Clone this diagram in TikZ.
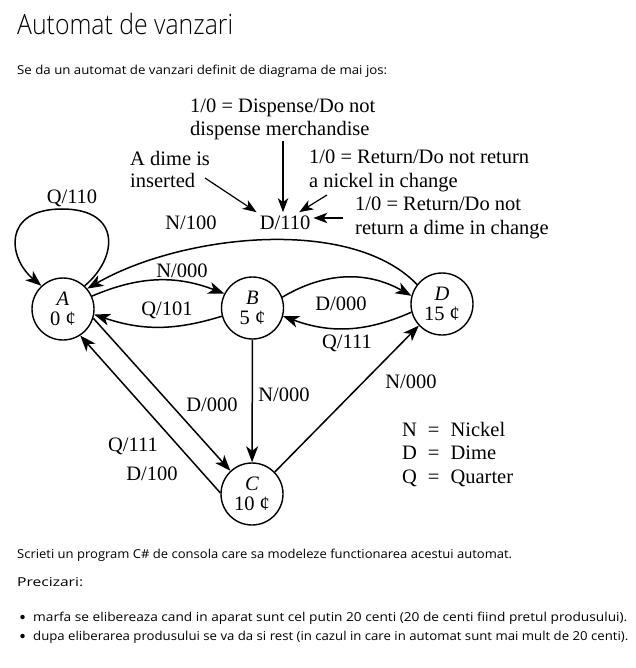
\documentclass[tikz,border=0pt]{standalone}
\usepackage{fontspec}
\usepackage{graphicx}
\setmainfont{Liberation Serif}
\IfFontExistsTF{Open Sans Light}{\newfontfamily\titlefont{Open Sans Light}}{\newfontfamily\titlefont{Open Sans}}
\newfontfamily\uifont{Open Sans}
\usetikzlibrary{arrows.meta,calc}
\begin{document}
\begin{tikzpicture}[x=1pt,y=-1pt,
  font=\fontsize{20.5}{23.5}\selectfont,
  state/.style={circle,draw,line width=1.4pt,minimum size=62pt,inner sep=0pt,align=center,
    font=\fontsize{20.5}{20}\selectfont},
  arr/.style={line width=1.5pt,-{Stealth[length=16pt,width=12pt,inset=4.5pt]}},
  ptr/.style={line width=1.2pt,-{Stealth[length=14pt,width=10.5pt,inset=4pt]}},
  lbl/.style={inner sep=0pt,anchor=base},
  lblw/.style={inner sep=0pt,anchor=base west},
  ui/.style={inner sep=0pt,anchor=base west,font=\uifont\fontsize{12.3}{14}\selectfont},
  bullet/.style={circle,fill,inner sep=0pt,minimum size=4.5pt}]
\fill[white] (0,0) rectangle (635,668);
\useasboundingbox (0,0) rectangle (635,668);

% page text
\node[inner sep=0pt,anchor=base west,font=\titlefont\fontsize{28}{32}\selectfont] (title) at (17,35)
  {\resizebox{216pt}{\height}{Automat de vanzari}};
\node[ui] (intro) at (17,75) {\resizebox{370pt}{\height}{Se da un automat de vanzari definit de diagrama de mai jos:}};
\node[ui] (task) at (17,558) {\resizebox{495pt}{\height}{Scrieti un program C\# de consola care sa modeleze functionarea acestui automat.}};
\node[ui] (prec) at (17,586) {\resizebox{66pt}{\height}{Precizari:}};
\node[bullet] (b1) at (22.5,617) {};
\node[ui] (item1) at (33,621) {\resizebox{594pt}{\height}{marfa se elibereaza cand in aparat sunt cel putin 20 centi (20 de centi fiind pretul produsului).}};
\node[bullet] (b2) at (22.5,636) {};
\node[ui] (item2) at (33,640) {\resizebox{595pt}{\height}{dupa eliberarea produsului se va da si rest (in cazul in care in automat sunt mai mult de 20 centi).}};

% states
\node[state] (A) at (63,309) {\textit{A}\\0 ¢};
\node[state] (B) at (252.5,308) {\textit{B}\\5 ¢};
\node[state] (C) at (252,494) {\textit{C}\\10 ¢};
\node[state] (D) at (442,304) {\textit{D}\\15 ¢};

% notes
\node[lblw] (n1a) at (190,113) {1/0 = Dispense/Do not};
\node[lblw] (n1b) at (190,136) {dispense merchandise};
\node[lblw] (n2a) at (130,166) {A dime is};
\node[lblw] (n2b) at (130,188) {inserted};
\node[lblw] (n3a) at (309,164) {1/0 = Return/Do not return};
\node[lblw] (n3b) at (309,188) {a nickel in change};
\node[lblw] (n4a) at (355,211) {1/0 = Return/Do not};
\node[lblw] (n4b) at (355,234) {return a dime in change};

\node[lbl,inner sep=3pt] (d110) at (285,229) {D/110};
\coordinate (p1) at (205,178);
\coordinate (p2) at (283,141);
\coordinate (p3) at (327,195);
\coordinate (p4) at (343,218);
\draw[ptr] (p1) -- (d110.north west);
\draw[ptr] (p2) -- (p2 |- d110.north);
\draw[ptr] (p3) -- ($(d110.north)!0.5!(d110.north east)$);
\draw[ptr] (p4) -- (p4 -| d110.east);

% transitions
\coordinate (lt) at (62,209);
\draw[arr] (A.47) .. controls (118,258) and (122,209) .. (lt)
  .. controls (2,209) and (8,258) .. (A.133);
\node[lbl] (q110) at (72,204) {Q/110};

\draw[arr] (D.142) .. controls (350,215) and (180,235) .. (A.40);
\node[lbl] (n100) at (191,229) {N/100};

\draw[arr] (A.24) to[bend left=22] (B.153);
\node[lbl] (ab) at (182,277) {N/000};
\draw[arr] (B.195) to[bend left=18] (A.-10);
\node[lbl] (ba) at (167,315) {Q/101};

\draw[arr] (B.20) to[bend left=30] (D.165);
\node[lbl] (bd) at (341,310) {D/000};
\draw[arr] (D.195) to[bend left=22] (B.-15);
\node[lbl] (db) at (347,348) {Q/111};

\draw[arr] (B) -- (C);
\node[lbl] (bc) at (284,401) {N/000};

\draw[arr] (C.44) -- (D.223);
\node[lbl] (cd) at (411,388) {N/000};

\draw[arr] (A.-17) -- (C.133);
\node[lbl] (ac) at (212,411) {D/000};
\draw[arr] (C.178) -- (A.-57);
\node[lbl] (ca1) at (133,451) {Q/111};
\node[lbl] (ca2) at (152,480) {D/100};

% legend
\node[inner sep=0pt,anchor=base west] (legend) at (402,436)
  {\begin{tabular}[t]{@{}c@{\hspace{11pt}}c@{\hspace{11pt}}l@{}}
   N & = & Nickel\\
   D & = & Dime\\
   Q & = & Quarter
   \end{tabular}};
\end{tikzpicture}
\end{document}
